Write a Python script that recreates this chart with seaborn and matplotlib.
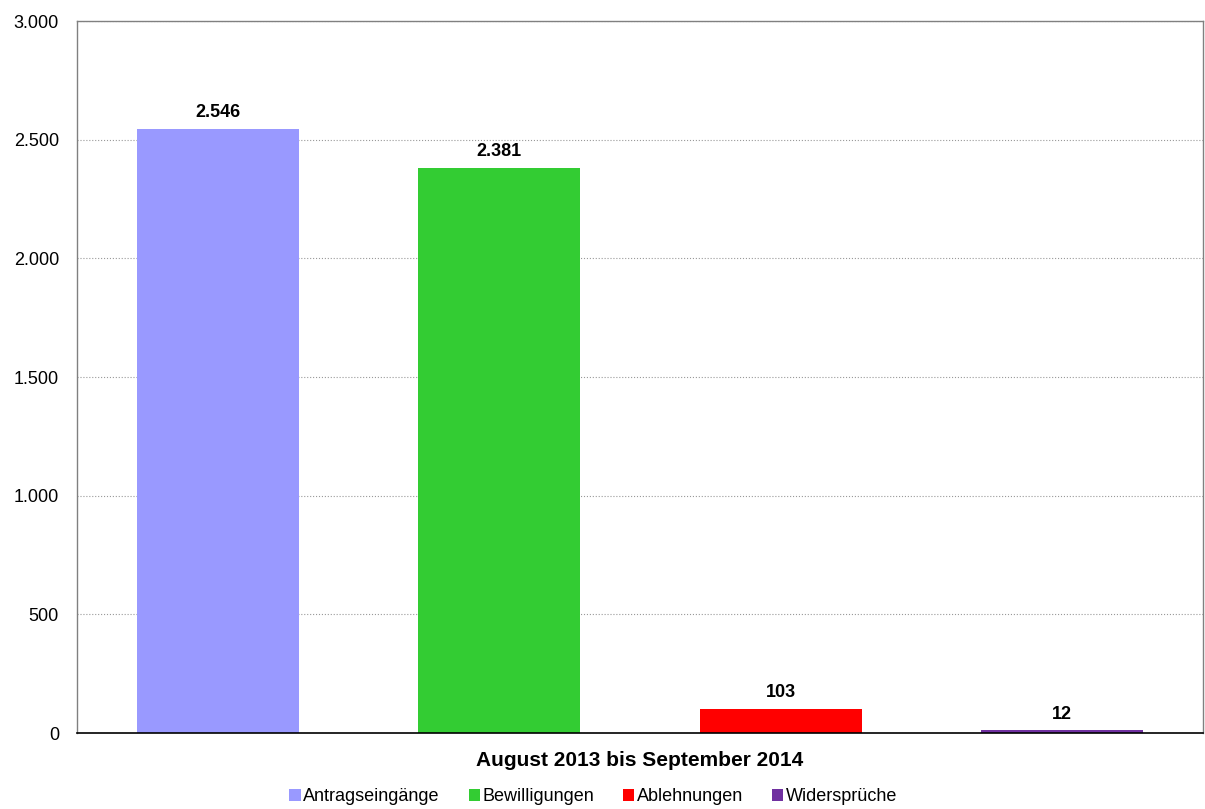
import matplotlib
matplotlib.use('Agg')
import matplotlib.pyplot as plt
import seaborn as sns
import pandas as pd
from matplotlib.ticker import FuncFormatter
from matplotlib.patches import Patch

# Daten
kategorien = ['Antragseingänge', 'Bewilligungen', 'Ablehnungen', 'Widersprüche']
werte = [2546, 2381, 103, 12]
farben = ['#9999FF', '#33CC33', '#FF0000', '#7030A0']
zeitraum = 'August 2013 bis September 2014'

df = pd.DataFrame({'kategorie': kategorien, 'wert': werte})

sns.set_style('white')
plt.rcParams['font.family'] = ['Liberation Sans', 'DejaVu Sans']
plt.rcParams['text.color'] = 'black'
plt.rcParams['axes.labelcolor'] = 'black'

fig = plt.figure(figsize=(12.05, 8.09), dpi=100)
ax = fig.add_axes([0.0639, 0.0939, 0.9344, 0.8801])

sns.barplot(data=df, x='kategorie', y='wert', hue='kategorie', palette=farben,
            dodge=False, width=0.575, legend=False, ax=ax, saturation=1,
            linewidth=0, edgecolor='none')

ax.set_ylim(0, 3000)
ax.set_xlim(-0.5, 3.5)
ax.set_yticks(range(0, 3001, 500))
ax.yaxis.set_major_formatter(FuncFormatter(lambda v, p: f'{int(v):,}'.replace(',', '.')))
ax.tick_params(axis='y', labelsize=13, length=0, pad=13, labelcolor='black')
ax.set_xticks([])
ax.grid(axis='y', color='#999999', linestyle=':', linewidth=0.8)
ax.set_axisbelow(True)

for s in ['left', 'right', 'top']:
    ax.spines[s].set_color('#808080')
    ax.spines[s].set_linewidth(1)
ax.spines['bottom'].set_color('black')
ax.spines['bottom'].set_linewidth(1.2)

# Werte über den Balken
for i, v in enumerate(werte):
    ax.annotate(f'{v:,}'.replace(',', '.'), (i, v), xytext=(0, 5.5),
                textcoords='offset points', ha='center', va='bottom',
                fontsize=13, fontweight='bold', color='black')

ax.set_xlabel(zeitraum, fontsize=15, fontweight='bold', labelpad=13)
ax.set_ylabel('')

handles = [Patch(facecolor=c, edgecolor='none', label=k) for k, c in zip(kategorien, farben)]
fig.legend(handles=handles, loc='center', bbox_to_anchor=(0.4925, 0.015), ncol=4,
           frameon=False, fontsize=13, handlelength=0.62, handleheight=0.62,
           handletextpad=0.15, columnspacing=1.6)

fig.savefig('out.png', dpi=100)
